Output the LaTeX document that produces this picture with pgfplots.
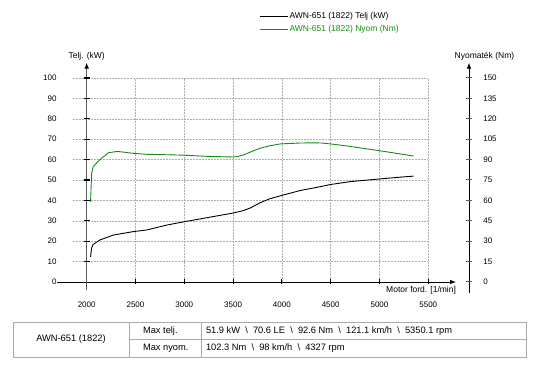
\documentclass[border=0pt]{standalone}
\usepackage{fontspec}
\setmainfont{Liberation Sans}
\usepackage{pgfplots}
\usepackage{pgfplotstable}
\pgfplotsset{compat=1.18}
\usetikzlibrary{arrows.meta}
\definecolor{tgreen}{RGB}{20,140,20}
\definecolor{gridgray}{RGB}{175,175,175}
\definecolor{tablegray}{RGB}{170,170,170}
\definecolor{axgray}{RGB}{90,90,90}

\pgfplotstableread{
rpm kw
2040 12.3
2050 16.5
2065 18.4
2136 20.6
2273 23.0
2478 24.7
2615 25.5
2820 27.9
3007 29.6
3230 31.5
3500 33.8
3604 35.0
3673 36.2
3775 38.8
3870 40.7
3996 42.4
4193 44.9
4350 46.3
4500 47.8
4700 49.2
5000 50.5
5240 51.5
5350 51.9
}\powertable

\pgfplotstableread{
rpm nm
2040 59.0
2051 80.0
2061 83.0
2068 85.0
2136 90.0
2222 95.0
2300 95.9
2341 95.8
2478 94.6
2615 93.9
2922 93.4
3007 93.2
3230 92.4
3502 91.9
3550 92.3
3604 93.4
3700 96.2
3775 98.3
3880 100.2
3980 101.5
4186 102.2
4327 102.3
4408 102.2
4561 101.0
4766 99.0
5039 96.1
5200 94.3
5350 92.6
}\torquetable

\begin{document}
\fontsize{8.5}{10}\selectfont
\begin{tikzpicture}
\path (0pt,0pt) rectangle (550pt,366pt);
\begin{axis}[
  at={(73pt,84pt)}, anchor=south west, scale only axis,
  width=355.3pt, height=204pt,
  xmin=1860, xmax=5500, ymin=0, ymax=100,
  clip=false,
  axis line style={draw=none},
  xtick={2000,2500,...,5500}, ytick={0,10,...,100},
  xtick pos=bottom, ytick pos=left,
  tick align=center, major tick length=5pt,
  xtick style={black, line width=0.8pt},
  ytick style={draw=none},
  grid=major,
  major grid style={gridgray, dash pattern=on 1.5pt off 1.5pt, line width=0.5pt},
  /pgf/number format/assume math mode=true,
  /pgf/number format/1000 sep={},
  tick label style={font=\fontsize{8}{9.6}\selectfont},
  xticklabel style={yshift=-14pt},
  yticklabel style={xshift=-11pt},
  every axis y label/.style={at={(axis description cs:0.0386,1.108)}, anchor=center},
  ylabel={Telj. (kW)},
  every axis x label/.style={at={(axis description cs:1.0864,-0.039)}, anchor=east},
  xlabel={Motor ford. [1/min]},
]
\addplot[black, line width=0.9pt, no markers] table[x=rpm, y=kw] {\powertable};
% axis lines
\draw[black, line width=0.8pt, -{Latex[length=6pt,width=4.5pt]}] (axis cs:1696,0) -- (axis cs:5784,0);
\draw[axgray, line width=1.6pt, -{Latex[length=6pt,width=5pt,black]}] (axis cs:2000,-3.9) -- (axis cs:2000,107.5);
\pgfplotsinvokeforeach{10,20,...,100}{
  \draw[black, line width=1.2pt] ([xshift=-3pt]axis cs:2000,#1) -- ([xshift=3pt]axis cs:2000,#1);
}
\draw[black, line width=0.8pt, -{Latex[length=6pt,width=4.5pt]}] (axis cs:5917,-5.4) -- (axis cs:5917,107.5);
\pgfplotsinvokeforeach{0,10,...,100}{
  \draw[axgray, line width=1pt] ([xshift=-3.3pt]axis cs:5917,#1) -- ([xshift=3.3pt]axis cs:5917,#1);
}
\end{axis}
\begin{axis}[
  at={(73pt,84pt)}, anchor=south west, scale only axis,
  width=355.3pt, height=204pt,
  xmin=1860, xmax=5500, ymin=0, ymax=150,
  clip=false,
  axis line style={draw=none},
  xtick=\empty, ytick={0,15,...,150},
  ytick pos=right, yticklabel pos=right,
  ytick style={draw=none},
  tick label style={font=\fontsize{8}{9.6}\selectfont},
  yticklabel style={anchor=west, xshift=52pt},
  /pgf/number format/assume math mode=true,
  every axis y label/.style={at={(axis description cs:1.158,1.108)}, anchor=center},
  ylabel={Nyomaték (Nm)},
  legend cell align=left,
  legend style={at={(axis description cs:0.5235,1.33)}, anchor=north west,
    draw=none, fill=none, inner sep=0pt, row sep=2.5pt,
    nodes={inner sep=1.5pt}},
  legend image code/.code={\draw[#1, line width=0.8pt] (0pt,0pt) -- (28pt,0pt);},
]
\addlegendimage{black}
\addlegendentry{AWN-651 (1822) Telj (kW)}
\addplot[tgreen, line width=0.9pt, no markers] table[x=rpm, y=nm] {\torquetable};
\addlegendentry{\textcolor{tgreen}{AWN-651 (1822) Nyom (Nm)}}
\end{axis}
% table
\begin{scope}[tablegray, line width=0.6pt]
\draw (13pt,44pt) rectangle (526pt,9pt);
\draw (129pt,44pt) -- (129pt,9pt);
\draw (201pt,44pt) -- (201pt,9pt);
\draw (129pt,26.5pt) -- (526pt,26.5pt);
\end{scope}
\begin{scope}[font=\fontsize{9.3}{11}\selectfont]
\node at (71pt,26.5pt) {AWN-651 (1822)};
\node[anchor=west] at (140pt,35.2pt) {Max telj.};
\node[anchor=west] at (140pt,17.8pt) {Max nyom.};
\node[anchor=west] at (203pt,35.2pt) {51.9 kW \ \textbackslash\ \ 70.6 LE \ \textbackslash\ \ 92.6 Nm \ \textbackslash\ \ 121.1 km/h \ \textbackslash\ \ 5350.1 rpm};
\node[anchor=west] at (203pt,17.8pt) {102.3 Nm \ \textbackslash\ \ 98 km/h \ \textbackslash\ \ 4327 rpm};
\end{scope}
\end{tikzpicture}
\end{document}
